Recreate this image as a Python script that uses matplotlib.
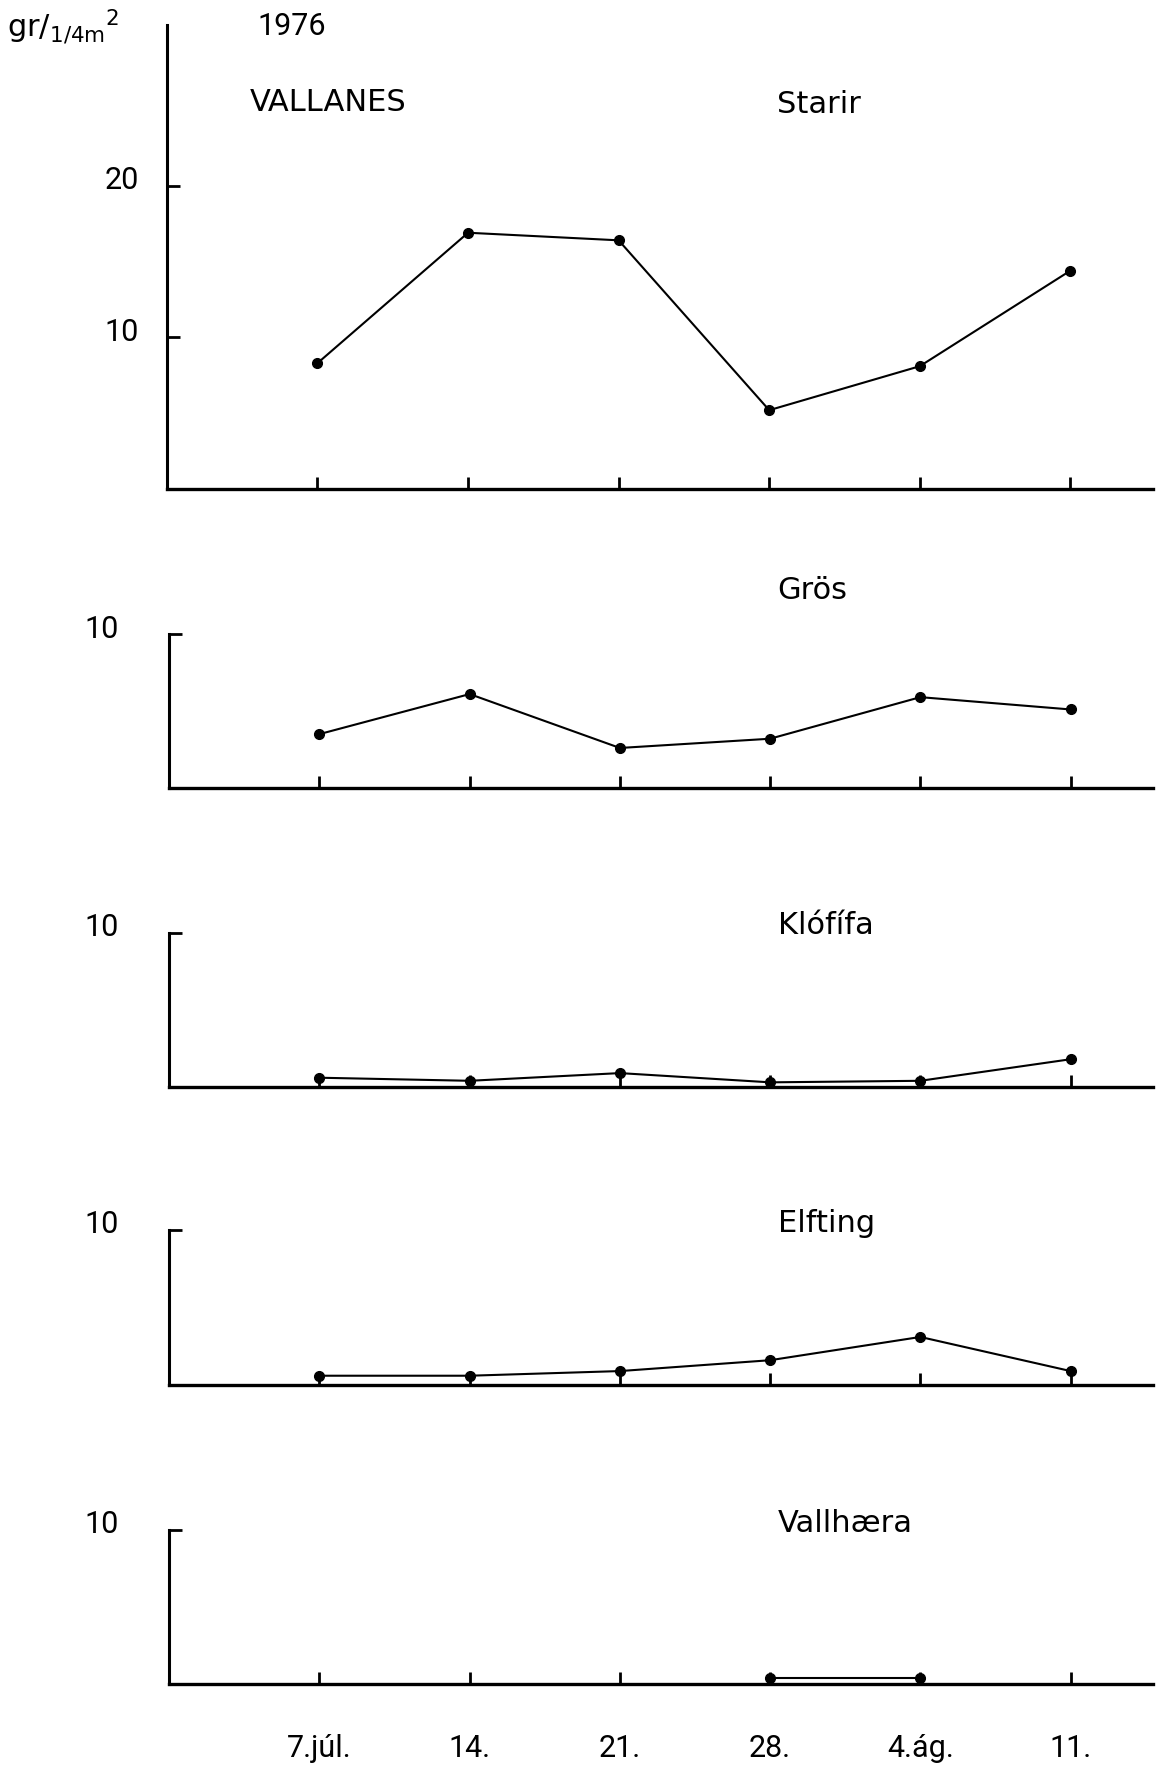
import numpy as np
import matplotlib
matplotlib.use("Agg")
from matplotlib import pyplot as plt
from matplotlib.transforms import ScaledTranslation

# sampling dates (1976)
dates = ["7.júl.", "14.", "21.", "28.", "4.ág.", "11."]
species = ["Starir", "Grös", "Klófífa", "Elfting", "Vallhæra"]

# dry weight, gr per 1/4 m2
starir = [8.3, 16.9, 16.4, 5.2, 8.1, 14.4]
gros = [3.5, 6.1, 2.6, 3.2, 5.9, 5.1]
klofifa = [0.6, 0.4, 0.9, 0.3, 0.4, 1.8]
elfting = [0.6, 0.6, 0.9, 1.6, 3.1, 0.9]
vallhaera = [np.nan, np.nan, np.nan, 0.4, 0.4, np.nan]

series = [starir, gros, klofifa, elfting, vallhaera]
ytop = [30.6, 10, 10, 10, 10]
yticks = [[10, 20], [10], [10], [10], [10]]

num_font = ["Roboto", "DejaVu Sans"]

fig = plt.figure(figsize=(11.59, 17.70), dpi=100)

# axes boxes in figure fractions
boxes = [
    (0.144, 0.7237, 0.851, 0.2622),
    (0.146, 0.5548, 0.849, 0.0870),
    (0.146, 0.3859, 0.849, 0.0870),
    (0.146, 0.2175, 0.849, 0.0876),
    (0.146, 0.0486, 0.849, 0.0870),
]
label_y = [0.828, 1.28, 1.05, 1.04, 1.045]
label_pad = [20, 36, 36, 36, 36]

x = np.arange(1, len(dates) + 1)

for i, (box, vals) in enumerate(zip(boxes, series)):
    ax = fig.add_axes(box)
    ax.plot(x, vals, color="black", lw=1.5, marker="o", ms=7)
    ax.set_xlim(0, 6.55)
    ax.set_ylim(0, ytop[i])
    for s in ["top", "right"]:
        ax.spines[s].set_visible(False)
    ax.spines["left"].set_linewidth(2.2)
    ax.spines["bottom"].set_linewidth(2.4)
    ax.set_xticks(x)
    if i == len(series) - 1:
        ax.set_xticklabels(dates, family=num_font, fontsize=22)
        ax.tick_params(axis="x", pad=36)
    else:
        ax.set_xticklabels([])
    ax.set_yticks(yticks[i])
    ax.set_yticklabels([str(t) for t in yticks[i]], family=num_font, fontsize=22)
    ax.tick_params(axis="both", direction="in", length=9, width=2, color="black")
    ax.tick_params(axis="y", pad=label_pad[i])
    off = ScaledTranslation(0, 0.08, fig.dpi_scale_trans)
    for lab in ax.get_yticklabels():
        lab.set_transform(lab.get_transform() + off)
    ax.text(4.05, label_y[i], species[i], transform=ax.get_xaxis_transform(),
            fontsize=22, ha="left", va="center", clip_on=False)
    if i == 0:
        ax.text(0.55, 0.832, "VALLANES", transform=ax.get_xaxis_transform(),
                fontsize=22, ha="left", va="center")

fig.text(0.222, 0.985, "1976", family=num_font, fontsize=22, ha="left", va="center")
fig.text(0.006, 0.985, r"gr$\mathregular{/_{1/4m}{}^{2}}$", fontsize=22,
         ha="left", va="center")

fig.savefig("out.png", dpi=100)
